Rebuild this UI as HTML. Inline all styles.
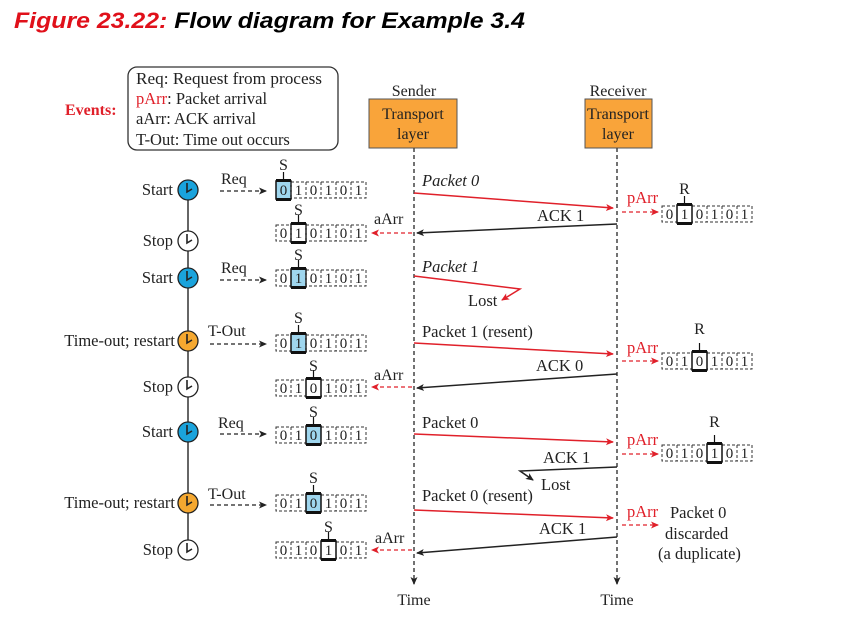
<!DOCTYPE html>
<html><head><meta charset="utf-8"><style>
html,body{margin:0;padding:0;background:#fff;width:842px;height:617px;overflow:hidden}
svg{display:block;font-family:"Liberation Serif",serif}
</style></head><body>
<svg width="842" height="617" viewBox="0 0 842 617" xmlns="http://www.w3.org/2000/svg">
<defs>
<marker id="ab" markerWidth="8" markerHeight="8" refX="7" refY="4" orient="auto" markerUnits="userSpaceOnUse"><path d="M0,0.5 L8,4 L0,7.5 L2,4z" fill="#222"/></marker>
<marker id="ar" markerWidth="8" markerHeight="8" refX="7" refY="4" orient="auto" markerUnits="userSpaceOnUse"><path d="M0,0.5 L8,4 L0,7.5 L2,4z" fill="#e0202a"/></marker>
</defs>
<text x="14" y="28" font-family="Liberation Sans,sans-serif" font-style="italic" font-weight="bold" font-size="22" fill="#e0101a" textLength="511" lengthAdjust="spacingAndGlyphs">Figure 23.22:<tspan fill="#000"> Flow diagram for Example 3.4</tspan></text>

<rect x="128" y="67" width="210" height="83" rx="9" fill="#fff" stroke="#333" stroke-width="1.3"/>
<g font-size="16.5" fill="#222">
<text x="136" y="84" textLength="186" lengthAdjust="spacingAndGlyphs">Req: Request from process</text>
<text x="136" y="104"><tspan fill="#e0202a">pArr</tspan>: Packet arrival</text>
<text x="136" y="124">aArr: ACK arrival</text>
<text x="136" y="145">T-Out: Time out occurs</text>
</g>
<text x="65" y="115" font-size="16" font-weight="bold" fill="#e0202a">Events:</text>

<text x="414" y="96" font-size="16" text-anchor="middle" fill="#222">Sender</text>
<rect x="369" y="99" width="88" height="49" fill="#f9a43a" stroke="#555"/>
<text x="413" y="119" font-size="16" text-anchor="middle" fill="#222">Transport</text>
<text x="413" y="139" font-size="16" text-anchor="middle" fill="#222">layer</text>
<text x="618" y="96" font-size="16" text-anchor="middle" fill="#222">Receiver</text>
<rect x="585" y="99" width="67" height="49" fill="#f9a43a" stroke="#555"/>
<text x="618" y="119" font-size="16" text-anchor="middle" fill="#222" textLength="62" lengthAdjust="spacingAndGlyphs">Transport</text>
<text x="618" y="139" font-size="16" text-anchor="middle" fill="#222">layer</text>

<line x1="414" y1="148" x2="414" y2="584" stroke="#444" stroke-width="1.5" stroke-dasharray="4,3" marker-end="url(#ab)"/>
<line x1="617" y1="148" x2="617" y2="584" stroke="#444" stroke-width="1.5" stroke-dasharray="4,3" marker-end="url(#ab)"/>
<text x="414" y="605" font-size="16" text-anchor="middle" fill="#222">Time</text>
<text x="617" y="605" font-size="16" text-anchor="middle" fill="#222">Time</text>

<line x1="188" y1="190" x2="188" y2="550" stroke="#333" stroke-width="1.5"/>
<g stroke="#222" stroke-width="1.3">
<circle cx="188" cy="190" r="10" fill="#1aa3dc"/>
<circle cx="188" cy="241" r="10" fill="#fff"/>
<circle cx="188" cy="278" r="10" fill="#1aa3dc"/>
<circle cx="188" cy="341" r="10" fill="#f5a830"/>
<circle cx="188" cy="387" r="10" fill="#fff"/>
<circle cx="188" cy="432" r="10" fill="#1aa3dc"/>
<circle cx="188" cy="503" r="10" fill="#f5a830"/>
<circle cx="188" cy="550" r="10" fill="#fff"/>
</g>
<g stroke="#222" stroke-width="1.6" fill="none">
<path d="M187 183v9l5-3"/><path d="M187 234v9l5-3"/><path d="M187 271v9l5-3"/><path d="M187 334v9l5-3"/>
<path d="M187 380v9l5-3"/><path d="M187 425v9l5-3"/><path d="M187 496v9l5-3"/><path d="M187 543v9l5-3"/>
</g>
<g font-size="16.5" fill="#222" text-anchor="end">
<text x="173" y="195">Start</text>
<text x="173" y="246">Stop</text>
<text x="173" y="283">Start</text>
<text x="175" y="346">Time-out; restart</text>
<text x="173" y="392">Stop</text>
<text x="173" y="437">Start</text>
<text x="175" y="508">Time-out; restart</text>
<text x="173" y="555">Stop</text>
</g>

<g stroke="#222" stroke-width="1.3" stroke-dasharray="4,3" fill="none">
<line x1="220" y1="191" x2="266" y2="191" marker-end="url(#ab)"/>
<line x1="220" y1="280" x2="266" y2="280" marker-end="url(#ab)"/>
<line x1="210" y1="344" x2="266" y2="344" marker-end="url(#ab)"/>
<line x1="220" y1="434" x2="266" y2="434" marker-end="url(#ab)"/>
<line x1="210" y1="505" x2="266" y2="505" marker-end="url(#ab)"/>
</g>
<g font-size="16" fill="#222">
<text x="221" y="184">Req</text>
<text x="221" y="273">Req</text>
<text x="208" y="336">T-Out</text>
<text x="218" y="428">Req</text>
<text x="208" y="499">T-Out</text>
</g>
<g stroke="#e0202a" stroke-width="1.3" stroke-dasharray="4,3">
<line x1="412" y1="233" x2="372" y2="233" marker-end="url(#ar)"/>
<line x1="412" y1="387" x2="372" y2="387" marker-end="url(#ar)"/>
<line x1="412" y1="550" x2="372" y2="550" marker-end="url(#ar)"/>
</g>
<g font-size="16" fill="#222">
<text x="374" y="224">aArr</text>
<text x="374" y="380">aArr</text>
<text x="375" y="543">aArr</text>
</g>

<g font-size="15" fill="#222" text-anchor="middle">
<g fill="none" stroke="#333" stroke-width="1" stroke-dasharray="3,2">
<rect x="276" y="182" width="90" height="16"/>
<rect x="276" y="225" width="90" height="16"/>
<rect x="276" y="270" width="90" height="16"/>
<rect x="276" y="335" width="90" height="16"/>
<rect x="276" y="380" width="90" height="16"/>
<rect x="276" y="427" width="90" height="16"/>
<rect x="276" y="495" width="90" height="16"/>
<rect x="276" y="542" width="90" height="16"/>
<rect x="662" y="206" width="90" height="16"/>
<rect x="662" y="353" width="90" height="16"/>
<rect x="662" y="445" width="90" height="16"/>
</g>
<g stroke="#111" stroke-width="1.5">
<rect x="276" y="181" width="15" height="18" fill="#9fd6ee"/>
<rect x="291" y="224" width="15" height="18" fill="#fff"/>
<rect x="291" y="269" width="15" height="18" fill="#9fd6ee"/>
<rect x="291" y="334" width="15" height="18" fill="#9fd6ee"/>
<rect x="306" y="379" width="15" height="18" fill="#fff"/>
<rect x="306" y="426" width="15" height="18" fill="#9fd6ee"/>
<rect x="306" y="494" width="15" height="18" fill="#9fd6ee"/>
<rect x="321" y="541" width="15" height="18" fill="#fff"/>
<rect x="677" y="205" width="15" height="18" fill="#fff"/>
<rect x="692" y="352" width="15" height="18" fill="#fff"/>
<rect x="707" y="444" width="15" height="18" fill="#fff"/>
</g>
<g fill="#111">
<rect x="276" y="179" width="15" height="3"/><rect x="276" y="198" width="15" height="3"/>
<rect x="291" y="222" width="15" height="3"/><rect x="291" y="241" width="15" height="3"/>
<rect x="291" y="267" width="15" height="3"/><rect x="291" y="286" width="15" height="3"/>
<rect x="291" y="332" width="15" height="3"/><rect x="291" y="351" width="15" height="3"/>
<rect x="306" y="377" width="15" height="3"/><rect x="306" y="396" width="15" height="3"/>
<rect x="306" y="424" width="15" height="3"/><rect x="306" y="443" width="15" height="3"/>
<rect x="306" y="492" width="15" height="3"/><rect x="306" y="511" width="15" height="3"/>
<rect x="321" y="539" width="15" height="3"/><rect x="321" y="558" width="15" height="3"/>
<rect x="677" y="203" width="15" height="3"/><rect x="677" y="222" width="15" height="3"/>
<rect x="692" y="350" width="15" height="3"/><rect x="692" y="369" width="15" height="3"/>
<rect x="707" y="442" width="15" height="3"/><rect x="707" y="461" width="15" height="3"/>
</g>
<g stroke="#111" stroke-width="1.2">
<line x1="283.5" y1="172" x2="283.5" y2="179"/>
<line x1="298.5" y1="215" x2="298.5" y2="222"/>
<line x1="298.5" y1="260" x2="298.5" y2="267"/>
<line x1="298.5" y1="325" x2="298.5" y2="332"/>
<line x1="313.5" y1="370" x2="313.5" y2="377"/>
<line x1="313.5" y1="417" x2="313.5" y2="424"/>
<line x1="313.5" y1="485" x2="313.5" y2="492"/>
<line x1="328.5" y1="532" x2="328.5" y2="539"/>
<line x1="684.5" y1="196" x2="684.5" y2="203"/>
<line x1="699.5" y1="343" x2="699.5" y2="350"/>
<line x1="714.5" y1="435" x2="714.5" y2="442"/>
</g>
<g font-size="16">
<text x="283.5" y="170">S</text>
<text x="298.5" y="215">S</text>
<text x="298.5" y="260">S</text>
<text x="298.5" y="323">S</text>
<text x="313.5" y="371">S</text>
<text x="313.5" y="417">S</text>
<text x="313.5" y="483">S</text>
<text x="328.5" y="532">S</text>
<text x="684.5" y="194">R</text>
<text x="699.5" y="334">R</text>
<text x="714.5" y="427">R</text>
</g>
<text y="195"><tspan x="283.5">0</tspan><tspan x="298.5">1</tspan><tspan x="313.5">0</tspan><tspan x="328.5">1</tspan><tspan x="343.5">0</tspan><tspan x="358.5">1</tspan></text>
<text y="238"><tspan x="283.5">0</tspan><tspan x="298.5">1</tspan><tspan x="313.5">0</tspan><tspan x="328.5">1</tspan><tspan x="343.5">0</tspan><tspan x="358.5">1</tspan></text>
<text y="283"><tspan x="283.5">0</tspan><tspan x="298.5">1</tspan><tspan x="313.5">0</tspan><tspan x="328.5">1</tspan><tspan x="343.5">0</tspan><tspan x="358.5">1</tspan></text>
<text y="348"><tspan x="283.5">0</tspan><tspan x="298.5">1</tspan><tspan x="313.5">0</tspan><tspan x="328.5">1</tspan><tspan x="343.5">0</tspan><tspan x="358.5">1</tspan></text>
<text y="393"><tspan x="283.5">0</tspan><tspan x="298.5">1</tspan><tspan x="313.5">0</tspan><tspan x="328.5">1</tspan><tspan x="343.5">0</tspan><tspan x="358.5">1</tspan></text>
<text y="440"><tspan x="283.5">0</tspan><tspan x="298.5">1</tspan><tspan x="313.5">0</tspan><tspan x="328.5">1</tspan><tspan x="343.5">0</tspan><tspan x="358.5">1</tspan></text>
<text y="508"><tspan x="283.5">0</tspan><tspan x="298.5">1</tspan><tspan x="313.5">0</tspan><tspan x="328.5">1</tspan><tspan x="343.5">0</tspan><tspan x="358.5">1</tspan></text>
<text y="555"><tspan x="283.5">0</tspan><tspan x="298.5">1</tspan><tspan x="313.5">0</tspan><tspan x="328.5">1</tspan><tspan x="343.5">0</tspan><tspan x="358.5">1</tspan></text>
<text y="219"><tspan x="669.5">0</tspan><tspan x="684.5">1</tspan><tspan x="699.5">0</tspan><tspan x="714.5">1</tspan><tspan x="729.5">0</tspan><tspan x="744.5">1</tspan></text>
<text y="366"><tspan x="669.5">0</tspan><tspan x="684.5">1</tspan><tspan x="699.5">0</tspan><tspan x="714.5">1</tspan><tspan x="729.5">0</tspan><tspan x="744.5">1</tspan></text>
<text y="458"><tspan x="669.5">0</tspan><tspan x="684.5">1</tspan><tspan x="699.5">0</tspan><tspan x="714.5">1</tspan><tspan x="729.5">0</tspan><tspan x="744.5">1</tspan></text>
</g>
<g stroke="#333" stroke-width="1" stroke-dasharray="3,2">
<path d="M291 182v16M306 182v16M321 182v16M336 182v16M351 182v16"/>
<path d="M306 225v16M321 225v16M336 225v16M351 225v16M291 225v16"/>
<path d="M306 270v16M321 270v16M336 270v16M351 270v16"/>
<path d="M306 335v16M321 335v16M336 335v16M351 335v16"/>
<path d="M291 380v16M336 380v16M351 380v16"/>
<path d="M291 427v16M336 427v16M351 427v16"/>
<path d="M291 495v16M336 495v16M351 495v16"/>
<path d="M291 542v16M306 542v16M351 542v16"/>
<path d="M707 206v16M722 206v16M737 206v16"/>
<path d="M677 353v16M722 353v16M737 353v16"/>
<path d="M677 445v16M692 445v16M737 445v16"/>
</g>

<g stroke="#e0202a" stroke-width="1.5" fill="none">
<line x1="414" y1="193" x2="613" y2="208" marker-end="url(#ar)"/>
<polyline points="414,276 520,289 502,300" marker-end="url(#ar)"/>
<line x1="414" y1="343" x2="613" y2="354" marker-end="url(#ar)"/>
<line x1="414" y1="434" x2="613" y2="442" marker-end="url(#ar)"/>
<line x1="414" y1="510" x2="613" y2="518" marker-end="url(#ar)"/>
</g>
<g stroke="#222" stroke-width="1.5" fill="none">
<line x1="617" y1="224" x2="417" y2="233" marker-end="url(#ab)"/>
<line x1="617" y1="374" x2="417" y2="388" marker-end="url(#ab)"/>
<polyline points="617,467 520,471 533,480" marker-end="url(#ab)"/>
<line x1="617" y1="537" x2="417" y2="553" marker-end="url(#ab)"/>
</g>
<g font-size="16.5" fill="#222">
<text x="422" y="186" font-style="italic">Packet 0</text>
<text x="537" y="221">ACK 1</text>
<text x="422" y="272" font-style="italic">Packet 1</text>
<text x="468" y="306">Lost</text>
<text x="422" y="337">Packet 1 (resent)</text>
<text x="536" y="371">ACK 0</text>
<text x="422" y="428">Packet 0</text>
<text x="543" y="463">ACK 1</text>
<text x="541" y="490">Lost</text>
<text x="422" y="501">Packet 0 (resent)</text>
<text x="539" y="534">ACK 1</text>
<text x="670" y="518">Packet 0</text>
<text x="665" y="539">discarded</text>
<text x="658" y="559">(a duplicate)</text>
</g>
<g stroke="#e0202a" stroke-width="1.3" stroke-dasharray="4,3">
<line x1="622" y1="212" x2="658" y2="212" marker-end="url(#ar)"/>
<line x1="622" y1="361" x2="658" y2="361" marker-end="url(#ar)"/>
<line x1="622" y1="454" x2="658" y2="454" marker-end="url(#ar)"/>
<line x1="622" y1="525" x2="658" y2="525" marker-end="url(#ar)"/>
</g>
<g font-size="16.5" fill="#e0202a">
<text x="627" y="203">pArr</text>
<text x="627" y="353">pArr</text>
<text x="627" y="445">pArr</text>
<text x="627" y="517">pArr</text>
</g>
</svg>
</body></html>
